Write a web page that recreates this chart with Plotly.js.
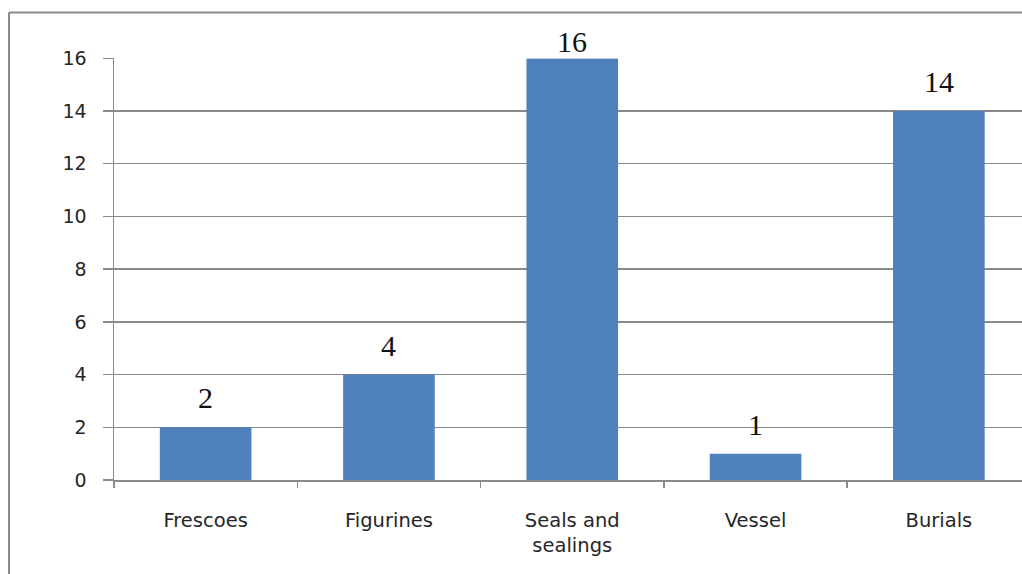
<!DOCTYPE html>
<html>
<head>
<meta charset="utf-8">
<script src="https://cdn.plot.ly/plotly-3.0.1.min.js"></script>
<style>
  html, body { margin: 0; padding: 0; background: #ffffff; }
  #chart { width: 1022px; height: 574px; }
</style>
</head>
<body>
<div id="chart"></div>
<script>
// ---- data ----
const categories = ["Frescoes", "Figurines", "Seals and<br>sealings", "Vessel", "Burials"];
const counts = [2, 4, 16, 1, 14];
const yTickValues = [0, 2, 4, 6, 8, 10, 12, 14, 16];
const yTickLabels = ["0", "2", "4", "6", "8", "10", "12", "14", "16"];

// ---- layout geometry ----
const W = 1022, H = 574;
const M = { l: 114, r: 0, t: 58, b: 94 };
const plotW = W - M.l - M.r, plotH = H - M.t - M.b;
const catStep = 183.3; // px per category in the reference
const xMax = (categories.length - 0.5) - (((categories.length) * catStep - plotW) / catStep);

const gray = "#8a8a8a";
const maxVal = Math.max(...counts);

const trace = {
  type: "bar",
  x: categories,
  y: counts,
  width: 0.5,
  marker: { color: "#4f81bd", line: { width: 0 } },
  hoverinfo: "x+y",
  showlegend: false
};

const annotations = counts.map((v, i) => ({
  x: categories[i], y: v, xref: "x", yref: "y",
  text: String(v),
  showarrow: false,
  yanchor: "bottom",
  yshift: v === maxVal ? -1 : 12,
  font: { family: "Liberation Serif, Times New Roman, serif", size: 30, color: "#111111" },
  bgcolor: v === maxVal ? "#ffffff" : "rgba(0,0,0,0)",
  width: v === maxVal ? 112 : null,
  borderpad: 0
}));

// frame (gray border around chart), in paper coords
const fx = (9 - M.l) / plotW;
const fy = (H - M.b - 12.5) / plotH;
const shapes = [
  { type: "line", xref: "paper", yref: "paper", x0: fx, x1: fx, y0: fy, y1: -0.3, line: { color: gray, width: 2 } },
  { type: "line", xref: "paper", yref: "paper", x0: fx, x1: 1.05, y0: fy, y1: fy, line: { color: gray, width: 2 } }
];

const layout = {
  width: W, height: H,
  margin: M,
  paper_bgcolor: "#ffffff",
  plot_bgcolor: "#ffffff",
  font: { family: "DejaVu Sans, sans-serif", color: "#262626" },
  xaxis: {
    type: "category",
    categoryorder: "array",
    categoryarray: categories,
    range: [-0.5, xMax],
    tickson: "boundaries",
    ticks: "outside",
    ticklen: 6,
    tickcolor: gray,
    tickwidth: 1.5,
    showline: true,
    linecolor: gray,
    linewidth: 1.5,
    showgrid: false,
    zeroline: false,
    ticklabelstandoff: 22,
    tickfont: { family: "DejaVu Sans, sans-serif", size: 19.5, color: "#262626" },
    fixedrange: true
  },
  yaxis: {
    range: [0, 16.01],
    tickmode: "array",
    tickvals: yTickValues,
    ticktext: yTickLabels,
    ticks: "outside",
    ticklen: 10,
    tickcolor: gray,
    tickwidth: 1.5,
    showline: true,
    linecolor: gray,
    linewidth: 1.5,
    showgrid: true,
    gridcolor: gray,
    gridwidth: 1.5,
    zeroline: false,
    ticklabelstandoff: 12,
    tickfont: { family: "DejaVu Sans, sans-serif", size: 19, color: "#262626" },
    fixedrange: true
  },
  annotations: annotations,
  shapes: shapes,
  bargap: 0.5
};

Plotly.newPlot("chart", [trace], layout, { displayModeBar: false, staticPlot: true });
</script>
</body>
</html>
